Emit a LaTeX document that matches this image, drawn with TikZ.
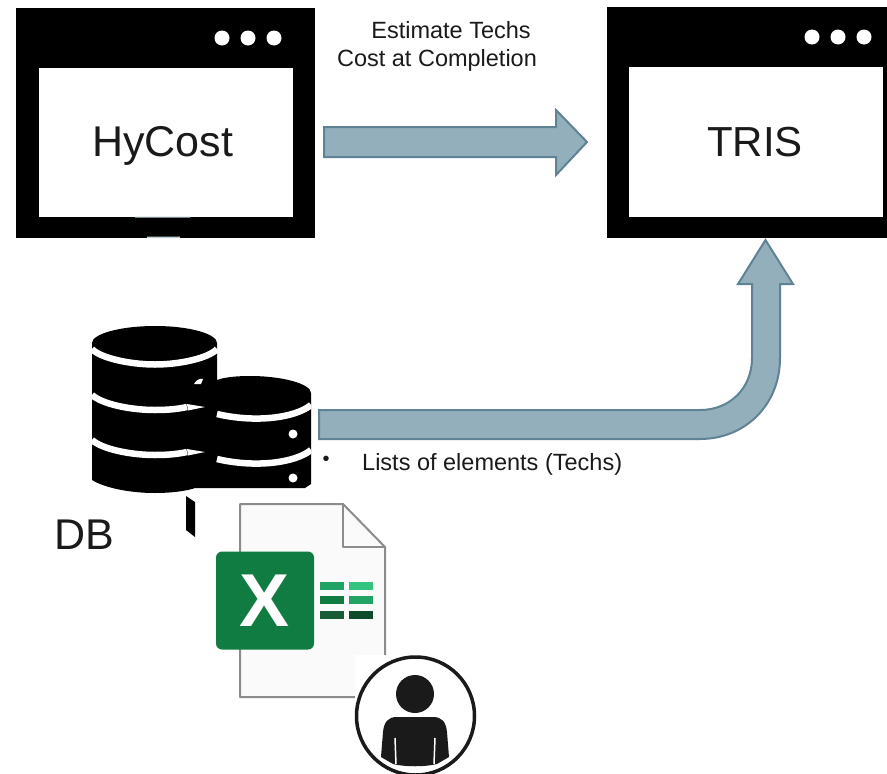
\documentclass[tikz,border=0pt]{standalone}
\usepackage{fontspec}
\setmainfont{Liberation Sans}
\usetikzlibrary{calc}

\definecolor{arrfill}{HTML}{93AFBC}
\definecolor{arredge}{HTML}{5F8395}
\definecolor{inkblack}{HTML}{1A1A1A}
\definecolor{xlgreen}{HTML}{107C41}

\newcommand{\fsize}[1]{\fontsize{#1}{#1}\selectfont}

\begin{document}
\begin{tikzpicture}[
  x=1pt, y=-1pt,
  frame/.style={fill=black, rectangle, inner sep=0pt},
  pane/.style={fill=white, rectangle, inner sep=0pt},
  panetext/.style={text=inkblack, inner sep=0pt, anchor=base},
  windot/.style={fill=white, circle, inner sep=0pt, minimum size=15pt},
  blockarr/.style={draw=arredge, fill=arrfill, line width=2pt, line join=miter},
  caption/.style={text=inkblack, font=\fsize{23.5}, inner sep=0pt},
  band/.style={draw=white, line width=6.5pt},
  xlcell/.style={rectangle, inner sep=0pt, minimum width=24pt, minimum height=8.5pt},
]
\clip (0,0) rectangle (887,774);
\fill[white] (0,0) rectangle (887,774);

% windows
\node (hycostframe) [frame, minimum width=299pt, minimum height=230pt] at (165.5, 123) {};
\node (hycost) [pane, minimum width=254pt, minimum height=149pt] at (166, 142.5) {};
\node (hycostlabel) [panetext, font=\fsize{43}] at (162.5, 156) {HyCost};
\node (trisframe) [frame, minimum width=280pt, minimum height=231pt] at (747, 122.5) {};
\node (tris) [pane, minimum width=254pt, minimum height=150pt] at (756, 142) {};
\node (trislabel) [panetext, font=\fsize{42}] at (755, 156) {TRIS};
\foreach \i in {0,1,2} {
  \node (hydot\i) [windot] at (222+26*\i, 38) {};
  \node (trisdot\i) [windot] at (812+26*\i, 37) {};
}
\fill[arrfill!60] (135,216.5) rectangle (190,217.5) (147,236.5) rectangle (180,238);

% arrows
\coordinate (hyout) at (324, 142);
\coordinate (hytip) at (587, 142);
\coordinate (dbout) at (319, 424.5);
\coordinate (tristip) at (765.5, 240);

\draw[blockarr]
  ([yshift=15pt]hyout) -- ++(232,0) -- ++(0,-17) -- (hytip) -- ++(-31,33) -- ++(0,-18) -- ([yshift=-15pt]hyout) -- cycle;
\draw[blockarr]
  ([yshift=14.5pt]dbout) -- (700,410) .. controls (730,410) and (752,388) .. (752,358)
  -- (752,284) -- (738,284) -- (tristip) -- (793,284) -- (780,284) -- (780,358)
  .. controls (780,405) and (745,439) .. (700,439) -- ([yshift=-14.5pt]dbout) -- cycle;

\node (estimate) [caption] at (451, 30) {Estimate Techs};
\node (completion) [caption] at (437, 60.5) {Cost at Completion};
\node (bullet) [text=inkblack, font=\fsize{20}, inner sep=0pt] at (326, 461) {•};
\node (lists) [caption, anchor=west] at (362, 464.5) {Lists of elements (Techs)};

% database
\fill[black] (92,343) -- (92,480) .. controls (105,488) and (130,493) .. (155,493)
  .. controls (175,493) and (190,490) .. (195,488) -- (305,488) -- (311,484) -- (311,393)
  .. controls (311,384) and (283,376) .. (250,376) .. controls (238,376) and (225,377) .. (217,380)
  -- (217,343) .. controls (217,334) and (190,326) .. (155,326) .. controls (120,326) and (92,334) .. (92,343) -- cycle;
\begin{scope}
  \clip (92,320) rectangle (311,490);
  \draw[band] (92,349) .. controls (100,358) and (130,364.5) .. (155,364.5) .. controls (180,364.5) and (209,358) .. (217,349);
  \draw[band] (92,395) .. controls (102,404) and (130,410) .. (155,410) .. controls (168,410) and (178,409) .. (187,407);
  \draw[band] (92,440) .. controls (102,449) and (130,455) .. (155,455) .. controls (168,455) and (178,454) .. (187,452);
  \draw[band] (217,414) .. controls (255,423) and (295,418) .. (311,405);
  \draw[band] (217,459) .. controls (255,468) and (295,463) .. (311,450);
\end{scope}
\fill[white] (187,404) -- (205,407) -- (188,410.5) -- cycle (187,449) -- (205,452) -- (188,455.5) -- cycle;
\fill[white] (194,384) .. controls (196,380) and (200,378) .. (203,379) -- (201,384) -- cycle;
\fill[white] (293,434) circle (4.5) (293,478) circle (4.5);
\fill[black] (186,496) -- (195,502) -- (195,537) -- (186,530) -- cycle;
\node (db) [text=inkblack, font=\fsize{43}, inner sep=0pt] at (84.5, 535) {DB};

% spreadsheet
\draw[draw=black!45, fill=black!2, line width=2pt, line join=round]
  (240,504) -- (343,504) -- (385,547) -- (385,697) -- (240,697) -- cycle;
\draw[draw=black!45, line width=2pt, line join=round] (343,504) -- (343,547) -- (385,547);
\node (xlbox) [fill=xlgreen, rectangle, rounded corners=6pt, minimum size=98pt, inner sep=0pt,
  text=white, font=\fsize{75}\bfseries] at (265, 600.5) {X};
\foreach \col/\row/\shade in {332/586/21A366, 360.5/586/33C481, 332/600/107C41, 360.5/600/21A366, 332/615/185C37, 360.5/615/0E4B2A} {
  \definecolor{cellcol}{HTML}{\shade}
  \node (cell\col\row) [xlcell, fill=cellcol] at (\col, \row) {};
}

% user
\fill[white] (355,655) rectangle (392,705);
\node (user) [draw=inkblack, fill=white, circle, line width=3.5pt, minimum size=118pt, inner sep=0pt] at (415.5, 716) {};
\fill[inkblack] (415,694) circle (19);
\fill[inkblack] (397,717) -- (433,717) .. controls (442,717) and (446,722) .. (447,732)
  -- (449,757) -- (437,764) .. controls (425,767) and (405,767) .. (393,764) -- (381,757)
  -- (383,732) .. controls (384,722) and (388,717) .. (397,717) -- cycle;
\draw[white, line width=1.5pt] (395,738) -- (396,764) (435,738) -- (434,764);
\end{tikzpicture}
\end{document}
